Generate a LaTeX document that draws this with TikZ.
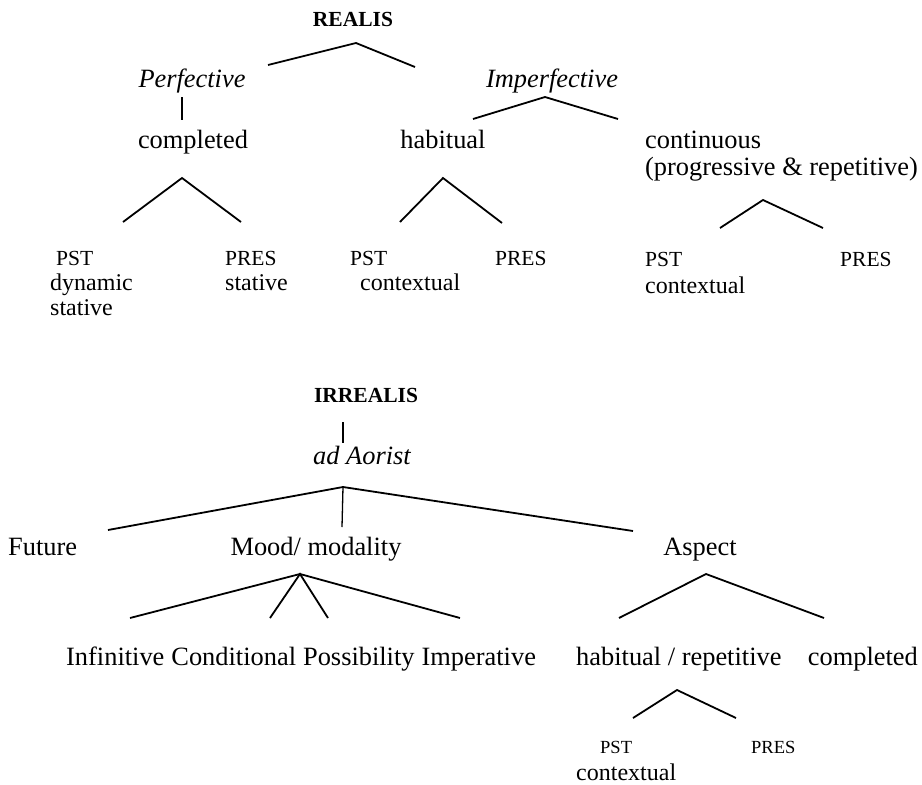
\documentclass[tikz,border=0pt]{standalone}
\usepackage{fontspec}
\setmainfont{Liberation Serif}
\begin{document}
\begin{tikzpicture}[x=1pt,y=-1pt,
  lbl/.style={inner sep=0pt, anchor=base, font=\fontsize{26.4}{30}\selectfont},
  lblw/.style={lbl, anchor=base west},
  head/.style={inner sep=0pt, anchor=base, font=\fontsize{21.5}{25}\selectfont\bfseries},
  itlbl/.style={lbl, font=\fontsize{26.4}{30}\selectfont\itshape},
  tense/.style={inner sep=0pt, anchor=base west, font=\fontsize{21.5}{25}\selectfont},
  smalltense/.style={tense, font=\fontsize{18.5}{22}\selectfont},
  note/.style={inner sep=0pt, anchor=base west, font=\fontsize{24}{28}\selectfont},
  branch/.style={line width=1.8pt},
  stem/.style={line width=1.3pt}]
\useasboundingbox (0,0) rectangle (922,785);

% ---------------- REALIS ----------------
\node[head] (realis) at (353,26) {REALIS};
\coordinate (r-apex) at (356,43);
\coordinate (r-l) at (268,65);
\coordinate (r-r) at (415,67);
\draw[branch] (r-l) -- (r-apex) -- (r-r);

\node[itlbl] (perf) at (192,87) {Perfective};
\node[itlbl] (imperf) at (552,87) {Imperfective};

\coordinate (p-top) at (182,97);
\coordinate (p-bot) at (182,120);
\draw[stem] (p-top) -- (p-bot);

\coordinate (i-apex) at (545,97);
\coordinate (i-l) at (473,119);
\coordinate (i-r) at (618,119);
\draw[branch] (i-l) -- (i-apex) -- (i-r);

\node[lbl] (compl) at (193,148) {completed};
\node[lbl] (habit) at (443,148) {habitual};
\node[lblw] (cont) at (645,148) {continuous};
\node[lblw] (prog) at (645,175) {(progressive \& repetitive)};

% completed subtree
\coordinate (c-apex) at (182,178);
\coordinate (c-l) at (123,222);
\coordinate (c-r) at (241,222);
\draw[branch] (c-l) -- (c-apex) -- (c-r);
\node[tense] (c-pst) at (56,265) {PST};
\node[note] (c-dyn) at (50,290) {dynamic};
\node[note] (c-stat) at (50,315) {stative};
\node[tense] (c-pres) at (225,265) {PRES};
\node[note] (c-pstat) at (225,290) {stative};

% habitual subtree
\coordinate (h-apex) at (443,178);
\coordinate (h-l) at (400,222);
\coordinate (h-r) at (502,223);
\draw[branch] (h-l) -- (h-apex) -- (h-r);
\node[tense] (h-pst) at (350,265) {PST};
\node[note] (h-ctx) at (360,290) {contextual};
\node[tense] (h-pres) at (495,265) {PRES};

% continuous subtree
\coordinate (n-apex) at (763,200);
\coordinate (n-l) at (720,228);
\coordinate (n-r) at (823,228);
\draw[branch] (n-l) -- (n-apex) -- (n-r);
\node[tense] (n-pst) at (645,266) {PST};
\node[note] (n-ctx) at (645,293) {contextual};
\node[tense] (n-pres) at (840,266) {PRES};

% ---------------- IRREALIS ----------------
\node[head] (irr) at (366,402) {IRREALIS};
\coordinate (a-top) at (343,422);
\coordinate (a-bot) at (343,443);
\draw[stem] (a-top) -- (a-bot);
\node[itlbl] (aor) at (362,464) {ad Aorist};

\coordinate (m-apex) at (343,487);
\coordinate (m-l) at (108,530);
\coordinate (m-c) at (342,527);
\coordinate (m-r) at (633,531);
\draw[branch] (m-l) -- (m-apex) -- (m-r);
\draw[stem] (m-apex) -- (m-c);

\node[lblw] (fut) at (8,555) {Future};
\node[lbl] (mood) at (316,555) {Mood/ modality};
\node[lbl] (asp) at (700,555) {Aspect};

% mood subtree
\coordinate (mo-apex) at (300,574);
\coordinate (mo-1) at (130,618);
\coordinate (mo-2) at (270,618);
\coordinate (mo-3) at (328,618);
\coordinate (mo-4) at (460,618);
\draw[branch] (mo-1) -- (mo-apex) -- (mo-4);
\draw[branch] (mo-2) -- (mo-apex) -- (mo-3);
\node[lblw] (inf) at (66,665) {Infinitive};
\node[lblw] (cond) at ([xshift=6.6]inf.base east) {Conditional};
\node[lblw] (poss) at ([xshift=6.6]cond.base east) {Possibility};
\node[lblw] (imp) at ([xshift=6.6]poss.base east) {Imperative};

% aspect subtree
\coordinate (as-apex) at (706,574);
\coordinate (as-l) at (619,618);
\coordinate (as-r) at (824,618);
\draw[branch] (as-l) -- (as-apex) -- (as-r);
\node[lblw] (hr) at (576,665) {habitual / repetitive};
\node[lbl, anchor=base east] (acompl) at (918,665) {completed};

\coordinate (hr-apex) at (677,690);
\coordinate (hr-l) at (633,718);
\coordinate (hr-r) at (736,718);
\draw[branch] (hr-l) -- (hr-apex) -- (hr-r);
\node[smalltense] (a-pst) at (600,753) {PST};
\node[smalltense] (a-pres) at (751,753) {PRES};
\node[note] (a-ctx) at (576,780) {contextual};
\end{tikzpicture}
\end{document}
